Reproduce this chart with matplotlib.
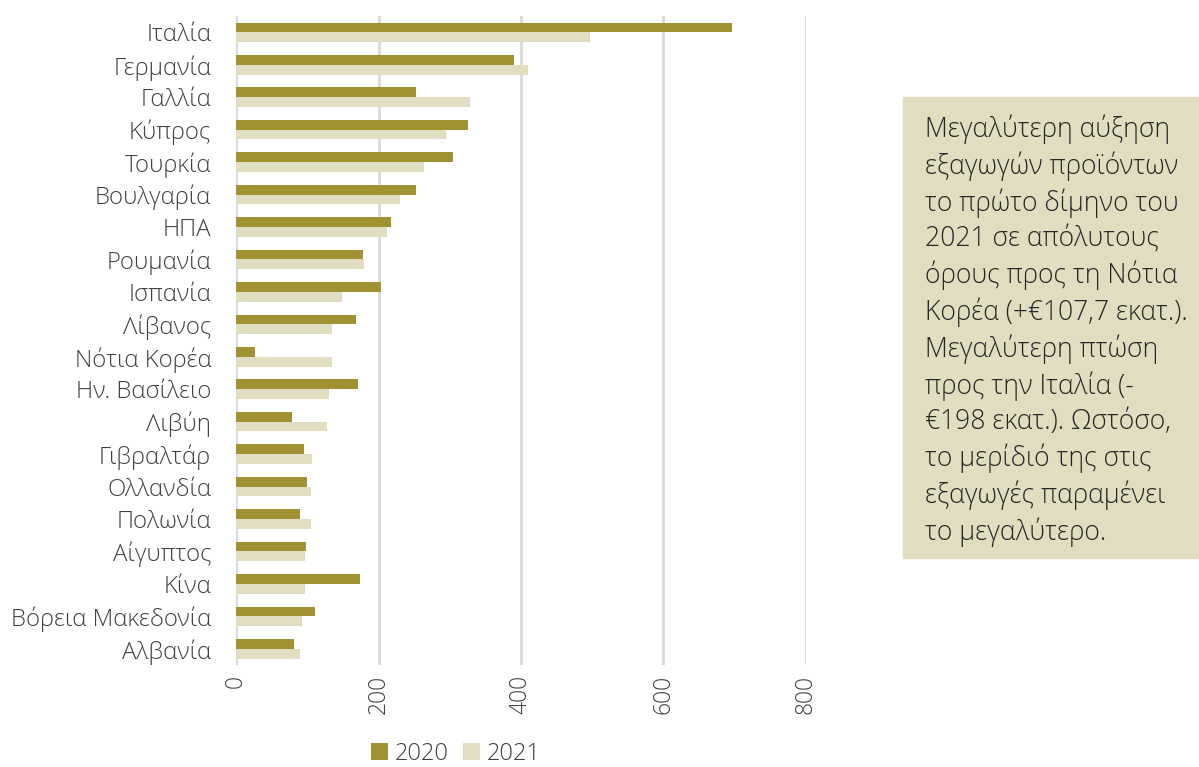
import matplotlib.pyplot as plt
import numpy as np
from matplotlib.patches import Rectangle

plt.rcParams['font.family'] = ['Open Sans', 'DejaVu Sans']
plt.rcParams['font.weight'] = 'light'

countries = ['Ιταλία', 'Γερμανία', 'Γαλλία', 'Κύπρος', 'Τουρκία', 'Βουλγαρία', 'ΗΠΑ',
             'Ρουμανία', 'Ισπανία', 'Λίβανος', 'Νότια Κορέα', 'Ην. Βασίλειο', 'Λιβύη',
             'Γιβραλτάρ', 'Ολλανδία', 'Πολωνία', 'Αίγυπτος', 'Κίνα', 'Βόρεια Μακεδονία',
             'Αλβανία']
v2020 = [696, 390, 253, 326, 304, 252, 218, 178, 204, 168, 26, 171, 78, 95, 99, 90, 98, 174, 110, 81]
v2021 = [497, 410, 329, 295, 264, 230, 212, 179, 148, 135, 134, 131, 128, 107, 105, 105, 97, 97, 92, 90]
xticks = [0, 200, 400, 600, 800]

note = ("Μεγαλύτερη αύξηση\nεξαγωγών προϊόντων\nτο πρώτο δίμηνο του\n"
        "2021 σε απόλυτους\nόρους προς τη Νότια\nΚορέα (+€107,7 εκατ.).\n"
        "Μεγαλύτερη πτώση\nπρος την Ιταλία (-\n€198 εκατ.). Ωστόσο,\n"
        "το μερίδιό της στις\nεξαγωγές παραμένει\nτο μεγαλύτερο.")

dark = '#a09133'
light = '#e0ddc0'

fig = plt.figure(figsize=(11.99, 7.67), dpi=100)
ax = fig.add_axes([0.197, 0.133, 0.475, 0.846])

y = np.arange(len(countries))
h = 0.3
ax.barh(y - h / 2, v2020, height=h, color=dark, label='2020', zorder=3)
ax.barh(y + h / 2, v2021, height=h, color=light, label='2021', zorder=3)

ax.set_ylim(len(countries) - 0.5, -0.5)
ax.set_xlim(0, 800)
ax.set_yticks(y)
ax.set_yticklabels(countries, fontsize=17.3, color='#404040')
ax.set_xticks(xticks)
ax.set_xticklabels([str(t) for t in xticks], rotation=90, fontsize=16.5, color='#404040')
ax.tick_params(axis='y', length=0, pad=18)
ax.tick_params(axis='x', length=0, pad=7)
ax.grid(axis='x', color='#d9d9d9', lw=2, zorder=0)
for s in ax.spines.values():
    s.set_visible(False)

ax.legend(loc='upper center', bbox_to_anchor=(0.386, -0.118), ncol=2, frameon=False,
          fontsize=17, handlelength=0.7, handleheight=0.7, handletextpad=0.3,
          columnspacing=0.6, labelcolor='#404040', borderaxespad=0, borderpad=0)

fig.patches.append(Rectangle((903 / 1199, 1 - 558 / 767), 296 / 1199, 461 / 767,
                             transform=fig.transFigure, color=light, zorder=0))
fig.text(925 / 1199, 1 - 115 / 767, note, fontsize=19.1, color='#262626',
         va='top', ha='left', linespacing=1.33)

fig.savefig('out.png', dpi=100)
